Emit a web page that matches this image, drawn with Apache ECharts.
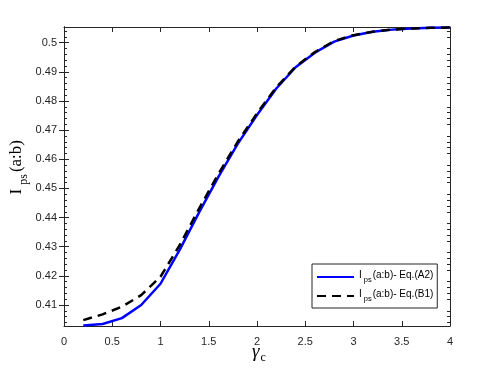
<!DOCTYPE html>
<html>
<head>
<meta charset="utf-8">
<script src="https://cdn.jsdelivr.net/npm/echarts@6/dist/echarts.min.js"></script>
<style>
  html, body { margin: 0; padding: 0; background: #fff; }
  #chart { width: 498px; height: 374px; }
</style>
</head>
<body>
<div id="chart"></div>
<script>
// gamma_c values
const gammaC = [0.2, 0.4, 0.6, 0.8, 1.0, 1.2, 1.4, 1.6, 1.8, 2.0, 2.2, 2.4, 2.6, 2.8, 3.0, 3.2, 3.4, 3.6, 3.8, 4.0]
// I_ps(a:b), Eq.(A2)
const eqA2 = [0.4030, 0.4035, 0.4055, 0.4100, 0.4173, 0.4290, 0.4418, 0.4540, 0.4653, 0.4752,
  0.4843, 0.4916, 0.4966, 0.5004, 0.5025, 0.5038, 0.5045, 0.5049, 0.5051, 0.5052]
// I_ps(a:b), Eq.(B1)
const eqB1 = [0.4048, 0.4068, 0.4094, 0.4134, 0.4197, 0.4306, 0.4431, 0.4550, 0.4660, 0.4758,
  0.4847, 0.4918, 0.4968, 0.5006, 0.5026, 0.5038, 0.5045, 0.5049, 0.5051, 0.5052]

const yTicks = [0.41, 0.42, 0.43, 0.44, 0.45, 0.46, 0.47, 0.48, 0.49, 0.5]
const yMinor = []
yTicks.forEach(t => {
  [-0.008, -0.006, -0.004, -0.002].forEach(d => {
    const v = +(t + d).toFixed(3)
    if (v > 0.4028) yMinor.push(v)
  })
})
;[0.502, 0.504].forEach(v => yMinor.push(v))

const seriesNames = ['A2', 'B1']
const axisColor = '#262626'
const yMin = 0.4028
const yMax = 0.5054

const chart = echarts.init(document.getElementById('chart'))

const pairs = arr => gammaC.map((x, i) => [x, arr[i]])

const yAxisBase = (pos, custom, len, labels) => ({
  type: 'value',
  position: pos,
  min: yMin,
  max: yMax,
  axisLine: { show: true, lineStyle: { color: axisColor, width: 1 } },
  axisTick: { show: true, inside: true, length: len, customValues: custom, lineStyle: { color: axisColor } },
  axisLabel: labels
    ? { show: true, customValues: yTicks, formatter: v => String(+v.toFixed(2)), color: axisColor, fontSize: 11, fontFamily: 'Liberation Sans', margin: 7 }
    : { show: false },
  splitLine: { show: false }
})

chart.setOption({
  animation: false,
  grid: { left: 64, right: 48, top: 27, bottom: 48 },
  xAxis: [
    {
      type: 'value', position: 'bottom', min: 0, max: 4, interval: 0.5,
      axisLine: { show: true, onZero: false, lineStyle: { color: axisColor, width: 1 } },
      axisTick: { show: true, inside: true, length: 5, lineStyle: { color: axisColor } },
      axisLabel: { color: axisColor, fontSize: 11, fontFamily: 'Liberation Sans', margin: 10, formatter: v => String(v) },
      splitLine: { show: false }
    },
    {
      type: 'value', position: 'top', min: 0, max: 4, interval: 0.5,
      axisLine: { show: true, onZero: false, lineStyle: { color: axisColor, width: 1 } },
      axisTick: { show: true, inside: true, length: 5, lineStyle: { color: axisColor } },
      axisLabel: { show: false },
      splitLine: { show: false }
    }
  ],
  yAxis: [
    yAxisBase('left', yTicks, 5, true),
    yAxisBase('right', yTicks, 5, false),
    yAxisBase('left', yMinor, 3, false),
    yAxisBase('right', yMinor, 3, false)
  ],
  legend: {
    orient: 'vertical',
    left: 312,
    top: 264,
    padding: [6, 4, 5, 4],
    itemGap: 5,
    itemWidth: 37,
    itemHeight: 10,
    backgroundColor: '#fff',
    borderColor: axisColor,
    borderWidth: 1,
    borderRadius: 0,
    itemStyle: { opacity: 0 },
    data: seriesNames,
    formatter: name => '{a|I}{b|ps}{a|(a:b)- Eq.(' + name + ')}',
    textStyle: {
      color: '#000',
      rich: {
        a: { fontSize: 10, fontFamily: 'Liberation Sans', color: '#000', verticalAlign: 'top', lineHeight: 14 },
        b: { fontSize: 7.5, fontFamily: 'Liberation Sans', color: '#000', verticalAlign: 'bottom', lineHeight: 14, padding: [0, 1, 0, 2] }
      }
    }
  },
  graphic: [
    {
      type: 'text',
      left: 8,
      top: 140,
      rotation: Math.PI / 2,
      style: {
        text: '{a|I}{b|ps}{a|(a:b)}',
        rich: {
          a: { fontSize: 17, fontFamily: 'Liberation Serif', fill: '#000', verticalAlign: 'top', lineHeight: 22 },
          b: { fontSize: 12, fontFamily: 'Liberation Serif', fill: '#000', verticalAlign: 'bottom', lineHeight: 22, padding: [0, 2, 0, 4] }
        }
      }
    },
    {
      type: 'text',
      left: 252,
      top: 342,
      style: {
        text: '{a|\u03b3}{b|c}',
        rich: {
          a: { fontSize: 19, fontFamily: 'Liberation Serif', fontStyle: 'italic', fill: '#000', verticalAlign: 'top', lineHeight: 22 },
          b: { fontSize: 12, fontFamily: 'Liberation Serif', fill: '#000', verticalAlign: 'bottom', lineHeight: 22, padding: [0, 0, 0, 1] }
        }
      }
    }
  ],
  series: [
    {
      name: 'A2',
      type: 'line',
      data: pairs(eqA2),
      symbol: 'none',
      smooth: false,
      lineStyle: { color: '#0000ff', width: 2.5 },
      itemStyle: { color: '#0000ff' },
      z: 2
    },
    {
      name: 'B1',
      type: 'line',
      data: pairs(eqB1),
      symbol: 'none',
      smooth: false,
      lineStyle: { color: '#000', width: 2.5, type: [9, 6] },
      itemStyle: { color: '#000' },
      z: 3
    }
  ]
})
</script>
</body>
</html>
